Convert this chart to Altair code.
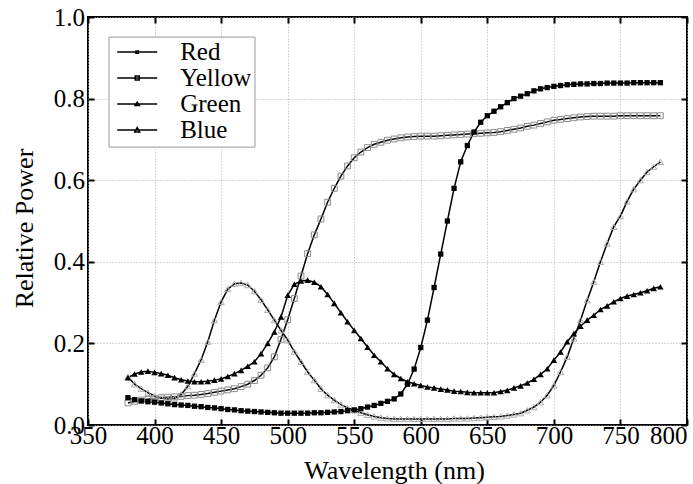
import altair as alt
import pandas as pd

wavelength = [380, 385, 390, 395, 400, 405, 410, 415, 420, 425,
              430, 435, 440, 445, 450, 455, 460, 465, 470, 475,
              480, 485, 490, 495, 500, 505, 510, 515, 520, 525,
              530, 535, 540, 545, 550, 555, 560, 565, 570, 575,
              580, 585, 590, 595, 600, 605, 610, 615, 620, 625,
              630, 635, 640, 645, 650, 655, 660, 665, 670, 675,
              680, 685, 690, 695, 700, 705, 710, 715, 720, 725,
              730, 735, 740, 745, 750, 755, 760, 765, 770, 775, 780]

red = [0.067, 0.062, 0.059, 0.057, 0.056, 0.054, 0.052, 0.050, 0.049, 0.048,
       0.046, 0.045, 0.043, 0.042, 0.040, 0.038, 0.037, 0.035, 0.034, 0.033,
       0.032, 0.031, 0.030, 0.029, 0.029, 0.029, 0.029, 0.029, 0.030, 0.030,
       0.031, 0.032, 0.033, 0.035, 0.037, 0.040, 0.044, 0.048, 0.053, 0.058,
       0.064, 0.076, 0.100, 0.137, 0.190, 0.257, 0.337, 0.419, 0.500, 0.580,
       0.645, 0.685, 0.718, 0.742, 0.758, 0.769, 0.780, 0.790, 0.800, 0.806,
       0.812, 0.819, 0.824, 0.827, 0.830, 0.832, 0.834, 0.835, 0.836, 0.836,
       0.837, 0.837, 0.838, 0.838, 0.838, 0.838, 0.839, 0.839, 0.839, 0.839, 0.839]

yellow = [0.054, 0.058, 0.061, 0.063, 0.065, 0.067, 0.068, 0.069, 0.070, 0.072,
          0.073, 0.075, 0.077, 0.080, 0.083, 0.086, 0.089, 0.094, 0.100, 0.109,
          0.122, 0.140, 0.167, 0.210, 0.258, 0.310, 0.365, 0.420, 0.466, 0.505,
          0.546, 0.580, 0.610, 0.635, 0.655, 0.669, 0.680, 0.688, 0.693, 0.698,
          0.701, 0.704, 0.706, 0.707, 0.708, 0.708, 0.708, 0.709, 0.710, 0.711,
          0.712, 0.713, 0.714, 0.715, 0.716, 0.717, 0.719, 0.722, 0.725, 0.728,
          0.732, 0.735, 0.739, 0.743, 0.747, 0.749, 0.751, 0.753, 0.755, 0.756,
          0.757, 0.757, 0.757, 0.757, 0.758, 0.758, 0.758, 0.758, 0.758, 0.758, 0.758]

green = [0.116, 0.125, 0.130, 0.132, 0.129, 0.126, 0.122, 0.116, 0.111, 0.108,
         0.106, 0.106, 0.107, 0.110, 0.113, 0.119, 0.126, 0.134, 0.144, 0.155,
         0.175, 0.200, 0.228, 0.265, 0.318, 0.345, 0.353, 0.355, 0.350, 0.339,
         0.320, 0.298, 0.275, 0.253, 0.232, 0.212, 0.191, 0.171, 0.155, 0.138,
         0.124, 0.114, 0.106, 0.101, 0.097, 0.093, 0.091, 0.088, 0.086, 0.083,
         0.082, 0.080, 0.079, 0.079, 0.079, 0.079, 0.082, 0.085, 0.091, 0.096,
         0.103, 0.112, 0.124, 0.138, 0.159, 0.179, 0.204, 0.224, 0.242, 0.257,
         0.269, 0.283, 0.292, 0.302, 0.310, 0.316, 0.320, 0.324, 0.329, 0.335, 0.339]

blue = [0.118, 0.100, 0.089, 0.079, 0.071, 0.066, 0.064, 0.065, 0.075, 0.095,
        0.126, 0.160, 0.204, 0.257, 0.302, 0.333, 0.346, 0.348, 0.343, 0.328,
        0.307, 0.282, 0.257, 0.232, 0.208, 0.180, 0.155, 0.130, 0.110, 0.089,
        0.073, 0.061, 0.050, 0.042, 0.036, 0.030, 0.025, 0.021, 0.018, 0.016,
        0.015, 0.015, 0.015, 0.015, 0.015, 0.015, 0.015, 0.015, 0.015, 0.016,
        0.016, 0.016, 0.017, 0.018, 0.019, 0.020, 0.021, 0.023, 0.026, 0.029,
        0.036, 0.044, 0.056, 0.073, 0.097, 0.130, 0.167, 0.212, 0.257, 0.306,
        0.351, 0.400, 0.445, 0.486, 0.512, 0.548, 0.578, 0.600, 0.620, 0.633, 0.645]

series_names = ["Red", "Yellow", "Green", "Blue"]
x_ticks = [350, 400, 450, 500, 550, 600, 650, 700, 750, 800]
y_ticks = [0.0, 0.2, 0.4, 0.6, 0.8, 1.0]

rows = []
for name, vals in zip(series_names, [red, yellow, green, blue]):
    for w, v in zip(wavelength, vals):
        rows.append({"wavelength": w, "power": v, "series": name})
df = pd.DataFrame(rows)

FONT = "Liberation Serif, Times New Roman, serif"
xscale = alt.Scale(domain=[350, 800], nice=False, zero=False)
yscale = alt.Scale(domain=[0, 1], nice=False, zero=False)

grid_kw = dict(gridColor="#b0b0b0", gridDash=[1, 2], gridWidth=1)

x_main = alt.Axis(values=x_ticks, title="Wavelength (nm)", grid=True, ticks=False,
                  domain=False, labelFont=FONT, labelFontSize=25, labelColor="black",
                  labelBaseline="alphabetic", labelPadding=18,
                  labelAlign=alt.ExprRef(expr="datum.value == 800 ? 'right' : 'center'"),
                  labelOverlap=False, labelBound=False, labelFlush=False,
                  titleFont=FONT, titleFontSize=26, titleFontWeight="normal",
                  titleColor="black", titleX=306, titleY=53,
                  titleBaseline="alphabetic", titleAlign="center", **grid_kw)
y_main = alt.Axis(values=y_ticks, format=".1f", title="Relative Power", grid=True,
                  ticks=False, domain=False, labelFont=FONT, labelFontSize=25,
                  labelColor="black", labelPadding=3.5, labelOverlap=False,
                  labelBound=False, labelFlush=False,
                  titleFont=FONT, titleFontSize=26, titleFontWeight="normal",
                  titleColor="black", titleX=-56, titleY=211, titleAngle=270,
                  titleBaseline="alphabetic", titleAlign="center", **grid_kw)

def tick_axis(orient, vals):
    return alt.Axis(orient=orient, values=vals, labels=False, grid=False, domain=False,
                    ticks=True, tickSize=6, tickWidth=2, tickColor="black",
                    offset=-6, title=None)

base = alt.Chart(df)

lines = base.mark_line(color="black", strokeWidth=1.5).encode(
    x=alt.X("wavelength:Q", scale=xscale, axis=x_main),
    y=alt.Y("power:Q", scale=yscale, axis=y_main),
    detail="series:N",
)

red_pts = base.transform_filter(alt.datum.series == "Red").mark_point(
    shape="square", filled=True, color="black", size=28, opacity=1
).encode(
    x=alt.X("wavelength:Q", scale=xscale, axis=tick_axis("bottom", x_ticks)),
    y=alt.Y("power:Q", scale=yscale, axis=tick_axis("left", y_ticks)),
)

green_pts = base.transform_filter(alt.datum.series == "Green").mark_point(
    shape="triangle-up", filled=True, color="black", size=42, opacity=1
).encode(
    x=alt.X("wavelength:Q", scale=xscale, axis=tick_axis("top", x_ticks)),
    y=alt.Y("power:Q", scale=yscale, axis=tick_axis("right", y_ticks)),
)

yellow_pts = base.transform_filter(alt.datum.series == "Yellow").mark_point(
    shape="square", filled=False, color="#8c8c8c", strokeWidth=1, size=34, opacity=1
).encode(
    x=alt.X("wavelength:Q", scale=xscale, axis=None),
    y=alt.Y("power:Q", scale=yscale, axis=None),
)

blue_pts = base.transform_filter(alt.datum.series == "Blue").mark_point(
    shape="triangle-up", filled=False, color="#ababab", strokeWidth=1, size=38, opacity=1
).encode(
    x=alt.X("wavelength:Q", scale=xscale, axis=None),
    y=alt.Y("power:Q", scale=yscale, axis=None),
)

# Legend symbols: a line segment plus a marker, drawn with strokes only
# (nested outlines read as filled markers, single wider ones as hollow markers).
legend_paths = [
    "M-4,0H4M-0.24,-0.24H0.24V0.24H-0.24ZM-0.08,-0.08H0.08V0.08H-0.08Z",
    "M-4,0H4M-0.4,-0.4H0.4V0.4H-0.4Z",
    "M-4,0H4M0,-0.4L0.44,0.3H-0.44ZM0,-0.14L0.18,0.16H-0.18Z",
    "M-4,0H4M0,-0.5L0.5,0.36H-0.5Z",
]

legend_layer = base.transform_filter("false").mark_point(
    filled=False, stroke="black", strokeWidth=1.5, size=196, opacity=1
).encode(
    x=alt.X("wavelength:Q", scale=xscale, axis=None),
    y=alt.Y("power:Q", scale=yscale, axis=None),
    shape=alt.Shape("series:N", scale=alt.Scale(domain=series_names, range=legend_paths),
                    legend=alt.Legend(orient="none", legendX=20.5, legendY=19.6, title=None,
                                      padding=3, fillColor="white", strokeColor="#999999",
                                      labelFont=FONT, labelFontSize=25, labelColor="black",
                                      labelOffset=30.5, symbolOffset=13.2, rowPadding=0)),
)

chart = alt.layer(lines, yellow_pts, blue_pts, red_pts, green_pts, legend_layer).resolve_axis(
    x="independent", y="independent"
).properties(
    width=599, height=408,
    padding={"left": 88, "top": 17, "right": 6, "bottom": 59},
    autosize=alt.AutoSizeParams(type="none"),
    background="white",
).configure_view(stroke="black", strokeWidth=2)

chart.save("out.html", embed_options={"renderer": "svg", "actions": False})
